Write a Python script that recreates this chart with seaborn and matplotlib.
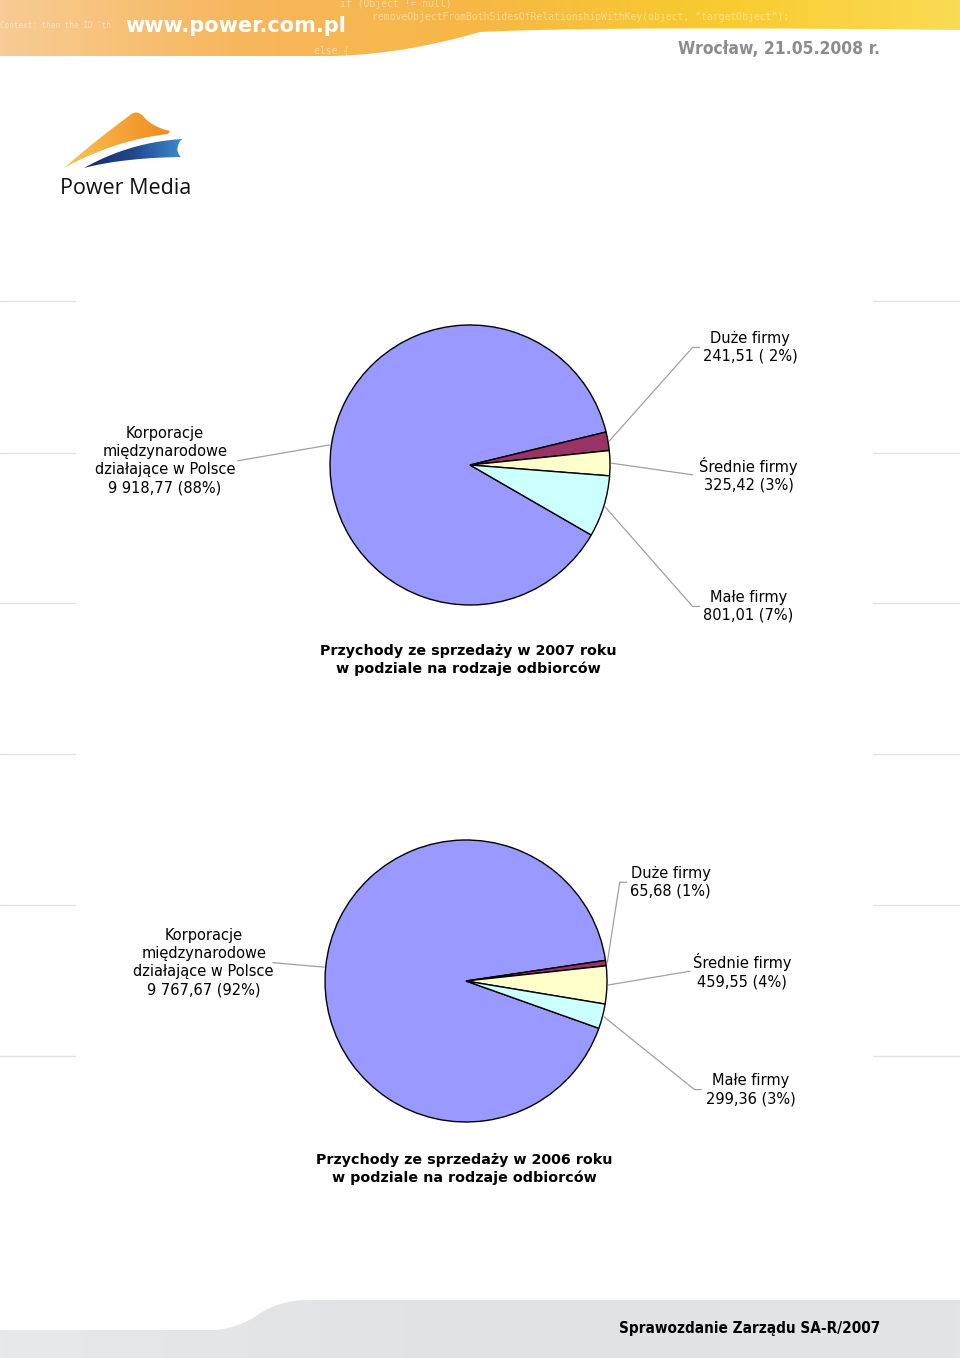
import numpy as np
import matplotlib
matplotlib.use("Agg")
import matplotlib.pyplot as plt
import seaborn as sns
from matplotlib.patches import Polygon
from matplotlib.colors import LinearSegmentedColormap

# -------------------------------
# DATA
# -------------------------------
categories = [
    "Korporacje\nmiędzynarodowe\ndziałające w Polsce",
    "Duże firmy",
    "Średnie firmy",
    "Małe firmy",
]
values_2007 = [9918.77, 241.51, 325.42, 801.01]
values_2006 = [9767.67, 65.68, 459.55, 299.36]
value_text_2007 = ["9 918,77 (88%)", "241,51 ( 2%)", "325,42 (3%)", "801,01 (7%)"]
value_text_2006 = ["9 767,67 (92%)", "65,68 (1%)", "459,55 (4%)", "299,36 (3%)"]
title_2007 = "Przychody ze sprzedaży w 2007 roku\nw podziale na rodzaje odbiorców"
title_2006 = "Przychody ze sprzedaży w 2006 roku\nw podziale na rodzaje odbiorców"

# -------------------------------
# STYLE
# -------------------------------
sns.set_theme(style="white")
plt.rcParams["font.family"] = ["DejaVu Sans"]
slice_colors = sns.color_palette(["#9999FF", "#993366", "#FFFFCC", "#CCFFFF"])

W, H = 960, 1358
fig = plt.figure(figsize=(W / 100, H / 100), dpi=100)
fig.patch.set_facecolor("white")

bg = fig.add_axes([0, 0, 1, 1])
bg.set_axis_off()


def bez(p0, p1, p2, n=30):
    t = np.linspace(0, 1, n)[:, None]
    p0, p1, p2 = map(np.array, (p0, p1, p2))
    return (1 - t) ** 2 * p0 + 2 * (1 - t) * t * p1 + t ** 2 * p2


def gradient_fill(ax, pts, colors, extent, vertical=False):
    cmap = LinearSegmentedColormap.from_list("g", colors)
    g = np.linspace(0, 1, 256)
    img = g[:, None] if vertical else g[None, :]
    im = ax.imshow(img, cmap=cmap, extent=extent, aspect="auto",
                   interpolation="bicubic", zorder=1)
    poly = Polygon(pts, closed=True, transform=ax.transData,
                   facecolor="none", edgecolor="none")
    ax.add_patch(poly)
    im.set_clip_path(poly)


# -------------------------------
# HEADER BANNER
# -------------------------------
banner = np.vstack([
    [[0, 0], [960, 0], [960, 30]],
    bez((960, 30), (600, 26), (480, 32)),
    bez((480, 32), (400, 55), (330, 56)),
    [[0, 56]],
])
gradient_fill(bg, banner, ["#F8CB94", "#F6B65C", "#F6B845", "#F8CB2E", "#FADB55"],
              [0, 960, 56, 0])

code_bits = [
    (340, 4, "if (Object != null)", 7),
    (372, 17, 'removeObjectFromBothSidesOfRelationshipWithKey(object, "targetObject");', 7),
    (314, 50, "else {", 7),
    (0, 25, 'Context: then the ID "th', 5.5),
]
for x, y, s, fs in code_bits:
    bg.text(x, y, s, fontsize=fs, family="DejaVu Sans Mono", color="white",
            alpha=0.45, va="center", ha="left", zorder=2)

bg.text(125, 26, "www.power.com.pl", fontsize=15, fontweight="bold",
        color="white", va="center", ha="left", zorder=3)
bg.text(880, 49, "Wrocław, 21.05.2008 r.", fontsize=12.5, fontweight="bold",
        fontstretch="condensed", color="#8C8C8C", va="center", ha="right", zorder=3)

# -------------------------------
# LOGO
# -------------------------------
orange = np.vstack([
    bez((64, 168), (96, 140), (129, 116)),
    bez((129, 116), (136, 109), (143, 116)),
    bez((143, 116), (152, 127), (170, 131)),
    [[168, 134]],
    bez((168, 134), (115, 140), (64, 168)),
])
gradient_fill(bg, orange, ["#F7C75A", "#F4A63A", "#EF8A1E"], [64, 172, 170, 108])

blue = np.vstack([
    bez((84, 168), (130, 142), (183, 139)),
    bez((183, 139), (179, 141), (178, 146)),
    bez((178, 146), (176, 152), (181, 157)),
    bez((181, 157), (122, 158), (84, 168)),
])
gradient_fill(bg, blue, ["#172A66", "#23478E", "#3C8FD0"], [84, 184, 170, 136])

bg.text(60, 189, "Power Media", fontsize=15.5, family="Open Sans",
        color="#111111", va="center", ha="left", zorder=3)

# -------------------------------
# PAGE DECORATION LINES
# -------------------------------
for y in [301, 453, 603, 754, 905, 1056]:
    bg.plot([0, 75], [y, y], color="#E2E2E2", lw=1, zorder=1)
    bg.plot([873, 960], [y, y], color="#E2E2E2", lw=1, zorder=1)

# -------------------------------
# FOOTER
# -------------------------------
footer = np.vstack([
    [[0, 1330], [215, 1330]],
    bez((215, 1330), (240, 1328), (262, 1312)),
    bez((262, 1312), (282, 1300), (310, 1300)),
    [[960, 1300], [960, 1358], [0, 1358]],
])
gradient_fill(bg, footer, ["#E6E8EA", "#E0E2E4", "#E2E4E6"], [0, 960, 1358, 1298])
bg.text(880, 1328, "Sprawozdanie Zarządu SA-R/2007", fontsize=11, fontweight="bold",
        fontstretch="condensed", color="black", va="center", ha="right", zorder=3)

bg.set_xlim(0, W)
bg.set_ylim(H, 0)


# -------------------------------
# PIE CHARTS
# -------------------------------
def draw_pie(cx, cy, r, values, texts, startangle, label_pos, title, title_y):
    ax = fig.add_axes([(cx - r) / W, 1 - (cy + r) / H, 2 * r / W, 2 * r / H])
    wedges, _ = ax.pie(values, colors=slice_colors, startangle=startangle,
                       counterclock=False, radius=1,
                       wedgeprops=dict(edgecolor="black", linewidth=1))
    ax.set_xlim(-1, 1)
    ax.set_ylim(-1, 1)
    ax.set_axis_off()

    for w, cat, txt, (tx, ty, ex, tick) in zip(wedges, categories, texts, label_pos):
        mid = np.deg2rad((w.theta1 + w.theta2) / 2)
        sx, sy = 1.01 * np.cos(mid), 1.01 * np.sin(mid)
        xs, ys = [sx, ex], [sy, ty]
        if tick:
            xs.append(ex + tick)
            ys.append(ty)
        ax.plot(xs, ys, color="#A0A0A0", lw=0.9, clip_on=False)
        ax.text(tx, ty, cat + "\n" + txt, ha="center", va="center",
                fontsize=10.5, color="black", linespacing=1.25, clip_on=False)

    bg.text(cx - 2, title_y, title, ha="center", va="center", fontsize=10.3,
            fontweight="bold", color="black", linespacing=1.3)


# label layout: text centre x, y, leader elbow x, horizontal tick length
pos_2007 = [(-2.18, 0.03, -1.66, 0), (2.0, 0.84, 1.59, 0.05),
            (1.99, -0.07, 1.59, 0), (1.99, -1.01, 1.59, 0.05)]
pos_2006 = [(-1.86, 0.13, -1.37, 0), (1.45, 0.70, 1.09, 0.05),
            (1.96, 0.07, 1.59, 0), (2.02, -0.77, 1.62, 0.05)]

draw_pie(470, 465, 140, values_2007, value_text_2007, 330, pos_2007, title_2007, 660)
draw_pie(466, 981, 141, values_2006, value_text_2006, 340.4, pos_2006, title_2006, 1169)

plt.savefig("out.png", dpi=100, facecolor="white")
